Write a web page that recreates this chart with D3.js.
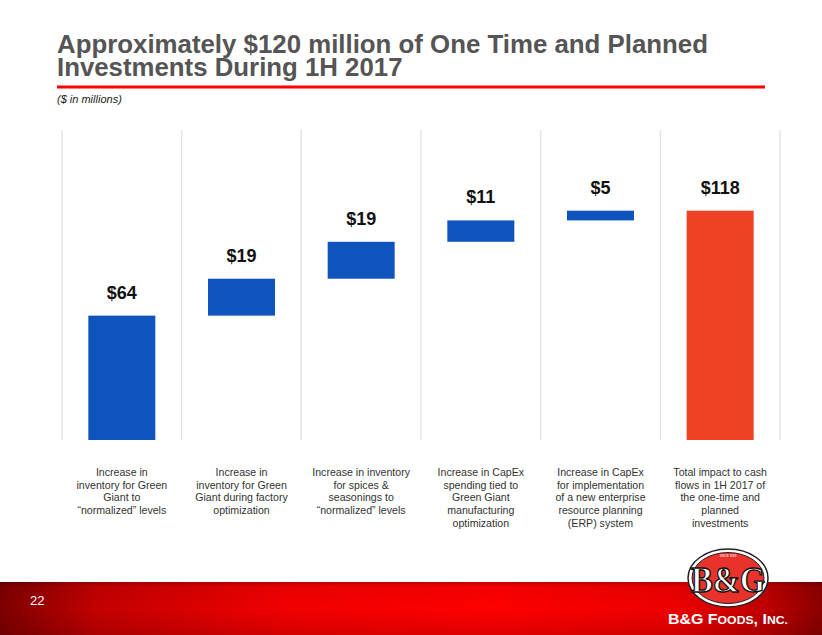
<!DOCTYPE html>
<html>
<head>
<meta charset="utf-8">
<script src="https://cdn.jsdelivr.net/npm/d3@7"></script>
<style>
  html, body { margin: 0; padding: 0; background: #fff; }
  svg { display: block; }
</style>
</head>
<body>
<svg id="chart" width="822" height="635"></svg>
<script>
// ---- data ----
const categories = [
  ["Increase in", "inventory for Green", "Giant to", "\u201cnormalized\u201d levels"],
  ["Increase in", "inventory for Green", "Giant during factory", "optimization"],
  ["Increase in inventory", "for spices &", "seasonings to", "\u201cnormalized\u201d levels"],
  ["Increase in CapEx", "spending tied to", "Green Giant", "manufacturing", "optimization"],
  ["Increase in CapEx", "for implementation", "of a new enterprise", "resource planning", "(ERP) system"],
  ["Total impact to cash", "flows in 1H 2017 of", "the one-time and", "planned", "investments"]
];
const stepValues = [64, 19, 19, 11, 5];
const totalValue = 118;
const valueLabels = ["$64", "$19", "$19", "$11", "$5", "$118"];
const titleLines = ["Approximately $120 million of One Time and Planned", "Investments During 1H 2017"];
const subtitle = "($ in millions)";
const pageNumber = "22";

// ---- build waterfall rows ----
let run = 0;
const rows = stepValues.map((v, i) => {
  const r = { i, start: run, end: run + v, total: false };
  run += v;
  return r;
});
rows.push({ i: stepValues.length, start: 0, end: totalValue, total: true });

const svg = d3.select("#chart");
const W = 822, H = 635;

// ---- title (one text element, two lines) ----
const title = svg.append("text")
  .attr("font-family", "Liberation Sans, Arial, sans-serif")
  .attr("font-weight", "bold").attr("font-size", 25.8)
  .attr("fill", "#555555");
titleLines.forEach((ln, i) => {
  const ts = title.append("tspan").attr("x", 57).attr("y", 53 + i * 23).text(ln);
  if (i === 0) ts.attr("textLength", 651).attr("lengthAdjust", "spacingAndGlyphs");
});

svg.append("rect").attr("x", 57).attr("y", 85.5).attr("width", 708).attr("height", 3).attr("fill", "#ff0000");

svg.append("text").attr("x", 57).attr("y", 103)
  .attr("font-family", "Liberation Sans, Arial, sans-serif")
  .attr("font-style", "italic").attr("font-size", 11)
  .attr("fill", "#222").text(subtitle);

// ---- scales ----
const x = d3.scaleBand().domain(d3.range(categories.length)).range([62, 780]);
const bandW = x.bandwidth();
const barW = 67;
const cx = i => x(i) + bandW / 2;
const y = d3.scaleLinear().domain([0, totalValue]).range([440, 210.7]);

// gridlines (band separators)
const seps = d3.range(categories.length).map(i => x(i)).concat([780]);
svg.append("g").selectAll("line").data(seps).join("line")
  .attr("x1", d => d).attr("x2", d => d)
  .attr("y1", 130).attr("y2", 440)
  .attr("stroke", "#e4e4e4").attr("stroke-width", 1.5);

// bars
svg.append("g").selectAll("rect").data(rows).join("rect")
  .attr("x", d => cx(d.i) - barW / 2)
  .attr("width", barW)
  .attr("y", d => y(d.end))
  .attr("height", d => y(d.start) - y(d.end))
  .attr("fill", d => d.total ? "#EF4123" : "#0F53BC");

// value labels
svg.append("g").selectAll("text").data(rows).join("text")
  .attr("x", d => cx(d.i))
  .attr("y", d => y(d.end) - 17)
  .attr("text-anchor", "middle")
  .attr("font-family", "Liberation Sans, Arial, sans-serif")
  .attr("font-weight", "bold").attr("font-size", 18)
  .attr("fill", "#111").text(d => valueLabels[d.i]);

// category labels
const catG = svg.append("g");
categories.forEach((lines, i) => {
  const t = catG.append("text")
    .attr("text-anchor", "middle")
    .attr("font-family", "Liberation Sans, Arial, sans-serif")
    .attr("font-size", 10.6).attr("fill", "#333");
  lines.forEach((ln, j) => {
    t.append("tspan").attr("x", cx(i)).attr("y", 476 + j * 12.7).text(ln);
  });
});

// ---- footer ----
const defs = svg.append("defs");
const g1 = defs.append("linearGradient").attr("id", "foot").attr("x1", "0").attr("x2", "1").attr("y1", "0").attr("y2", "0");
[[0, "#7d0000"], [0.12, "#c40000"], [0.35, "#f20000"], [0.6, "#ff0000"], [0.82, "#ee0000"], [0.93, "#c00000"], [1, "#8c0000"]]
  .forEach(([o, c]) => g1.append("stop").attr("offset", o).attr("stop-color", c));
const g2 = defs.append("linearGradient").attr("id", "footV").attr("x1", "0").attr("x2", "0").attr("y1", "0").attr("y2", "1");
[[0, "rgba(0,0,0,0.25)"], [0.08, "rgba(0,0,0,0.05)"], [0.5, "rgba(0,0,0,0)"], [1, "rgba(0,0,0,0.12)"]]
  .forEach(([o, c]) => g2.append("stop").attr("offset", o).attr("stop-color", c));

svg.append("rect").attr("x", 0).attr("y", 582).attr("width", W).attr("height", H - 582).attr("fill", "url(#foot)");
svg.append("rect").attr("x", 0).attr("y", 582).attr("width", W).attr("height", H - 582).attr("fill", "url(#footV)");

svg.append("text").attr("x", 30).attr("y", 605)
  .attr("font-family", "Liberation Sans, Arial, sans-serif")
  .attr("font-size", 13).attr("fill", "#fff").text(pageNumber);

// logo
const logo = svg.append("g");
logo.append("ellipse").attr("cx", 728).attr("cy", 578).attr("rx", 40).attr("ry", 29).attr("fill", "#fff").attr("stroke", "#222").attr("stroke-width", 1.5);
logo.append("ellipse").attr("cx", 728).attr("cy", 578).attr("rx", 36).attr("ry", 25.5).attr("fill", "#e8322b").attr("stroke", "#222").attr("stroke-width", 1);
logo.append("text").attr("x", 728).attr("y", 592).attr("text-anchor", "middle")
  .attr("font-family", "Liberation Serif, Times New Roman, serif").attr("font-weight", "bold")
  .attr("font-size", 36).attr("fill", "#fff").attr("stroke", "#111").attr("stroke-width", 1.4)
  .attr("textLength", 74).attr("lengthAdjust", "spacingAndGlyphs").text("B&G");
logo.append("text").attr("x", 728).attr("y", 557).attr("text-anchor", "middle")
  .attr("font-family", "Liberation Sans, Arial, sans-serif").attr("font-size", 3).attr("fill", "#fff").text("SINCE 1889");

const brand = svg.append("text").attr("x", 668).attr("y", 624)
  .attr("font-family", "Liberation Sans, Arial, sans-serif").attr("font-weight", "bold")
  .attr("fill", "#fff").attr("textLength", 120).attr("lengthAdjust", "spacingAndGlyphs");
brand.append("tspan").attr("font-size", 15).text("B&G F");
brand.append("tspan").attr("font-size", 11.5).text("OODS");
brand.append("tspan").attr("font-size", 15).text(", I");
brand.append("tspan").attr("font-size", 11.5).text("NC.");
</script>
</body>
</html>
